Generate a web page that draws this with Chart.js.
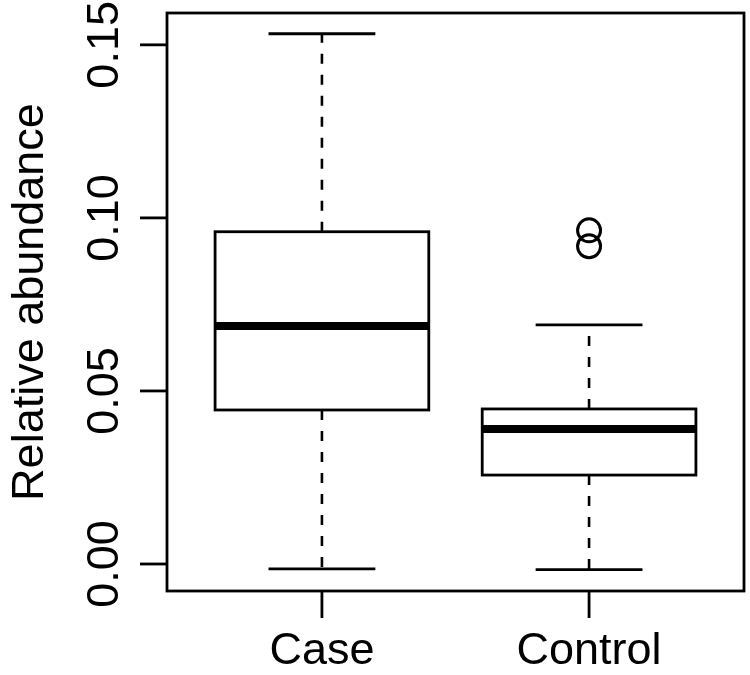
<!DOCTYPE html>
<html>
<head>
<meta charset="utf-8">
<script src="https://cdn.jsdelivr.net/npm/chart.js@4"></script>
<style>
  html, body { margin: 0; padding: 0; background: #fff; }
</style>
</head>
<body>
<canvas id="grafica" width="750" height="675"></canvas>
<script>
const categorias = ['Case', 'Control']
const bigoteInf = [-0.0014, -0.0016]
const cuartil1 = [0.0445, 0.0257]
const mediana = [0.0688, 0.0390]
const cuartil3 = [0.0960, 0.0448]
const bigoteSup = [0.1532, 0.0691]
const atipicos = [[], [0.0964, 0.0918]]
const ticksY = [0, 0.05, 0.10, 0.15]
const etiquetasY = ['0.00', '0.05', '0.10', '0.15']
const tituloY = 'Relative abundance'

const fuente = '45px "Liberation Sans", Arial, sans-serif'
const negro = '#000'

const puntosAtipicos = []
atipicos.forEach((lista, i) => {
    lista.forEach(v => puntosAtipicos.push({ x: i + 1, y: v }))
})

const cajas = {
    id: 'cajas',
    beforeDatasetsDraw(chart) {
        const ctx = chart.ctx
        const x = chart.scales.x
        const y = chart.scales.y
        ctx.save()
        ctx.strokeStyle = negro
        categorias.forEach((c, i) => {
            const pos = i + 1
            const xl = x.getPixelForValue(pos - 0.4)
            const xr = x.getPixelForValue(pos + 0.4)
            const xc = x.getPixelForValue(pos)
            const sl = x.getPixelForValue(pos - 0.2)
            const sr = x.getPixelForValue(pos + 0.2)
            const yq1 = y.getPixelForValue(cuartil1[i])
            const yq3 = y.getPixelForValue(cuartil3[i])
            const ymed = y.getPixelForValue(mediana[i])
            const ylo = y.getPixelForValue(bigoteInf[i])
            const yhi = y.getPixelForValue(bigoteSup[i])

            // bigotes punteados
            ctx.lineWidth = 2.6
            ctx.setLineDash([10, 11])
            ctx.beginPath()
            ctx.moveTo(xc, yq3); ctx.lineTo(xc, yhi)
            ctx.moveTo(xc, yq1); ctx.lineTo(xc, ylo)
            ctx.stroke()
            ctx.setLineDash([])

            // topes
            ctx.lineWidth = 2.8
            ctx.beginPath()
            ctx.moveTo(sl, yhi); ctx.lineTo(sr, yhi)
            ctx.moveTo(sl, ylo); ctx.lineTo(sr, ylo)
            ctx.stroke()

            // caja
            ctx.fillStyle = '#fff'
            ctx.fillRect(xl, yq3, xr - xl, yq1 - yq3)
            ctx.strokeRect(xl, yq3, xr - xl, yq1 - yq3)

            // mediana
            ctx.lineWidth = 8
            ctx.lineCap = 'butt'
            ctx.beginPath()
            ctx.moveTo(xl, ymed); ctx.lineTo(xr, ymed)
            ctx.stroke()
        })
        ctx.restore()
    },
    afterDraw(chart) {
        const ctx = chart.ctx
        const a = chart.chartArea
        const x = chart.scales.x
        const y = chart.scales.y
        ctx.save()
        ctx.strokeStyle = negro
        ctx.fillStyle = negro
        ctx.lineWidth = 2.8

        // marco
        ctx.strokeRect(a.left, a.top, a.right - a.left, a.bottom - a.top)

        // eje y
        ctx.font = fuente
        ticksY.forEach((t, i) => {
            const py = y.getPixelForValue(t)
            ctx.beginPath()
            ctx.moveTo(a.left - 27, py); ctx.lineTo(a.left, py)
            ctx.stroke()
            ctx.save()
            ctx.translate(a.left - 49, py)
            ctx.rotate(-Math.PI / 2)
            ctx.textAlign = 'center'
            ctx.textBaseline = 'alphabetic'
            ctx.fillText(etiquetasY[i], 0, 0)
            ctx.restore()
        })

        // eje x
        categorias.forEach((c, i) => {
            const px = x.getPixelForValue(i + 1)
            ctx.beginPath()
            ctx.moveTo(px, a.bottom); ctx.lineTo(px, a.bottom + 27)
            ctx.stroke()
            ctx.textAlign = 'center'
            ctx.textBaseline = 'alphabetic'
            ctx.fillText(c, px, a.bottom + 73)
        })

        // titulo y
        ctx.save()
        ctx.translate(43, (a.top + a.bottom) / 2)
        ctx.rotate(-Math.PI / 2)
        ctx.textAlign = 'center'
        ctx.textBaseline = 'alphabetic'
        ctx.fillText(tituloY, 0, 0)
        ctx.restore()
        ctx.restore()
    }
}

new Chart(document.querySelector('#grafica'), {
    type: 'scatter',
    data: {
        datasets: [{
            label: 'atipicos',
            data: puntosAtipicos,
            pointStyle: 'circle',
            pointRadius: 11.5,
            borderWidth: 3,
            borderColor: negro,
            backgroundColor: 'rgba(0,0,0,0)'
        }]
    },
    options: {
        responsive: false,
        animation: false,
        layout: { autoPadding: false, padding: { left: 167, right: 6, top: 13, bottom: 84 } },
        plugins: { legend: { display: false }, tooltip: { enabled: false } },
        scales: {
            x: { type: 'linear', min: 0.42, max: 2.58, display: false },
            y: { type: 'linear', min: -0.0078, max: 0.1592, display: false }
        }
    },
    plugins: [cajas]
})
</script>
</body>
</html>
